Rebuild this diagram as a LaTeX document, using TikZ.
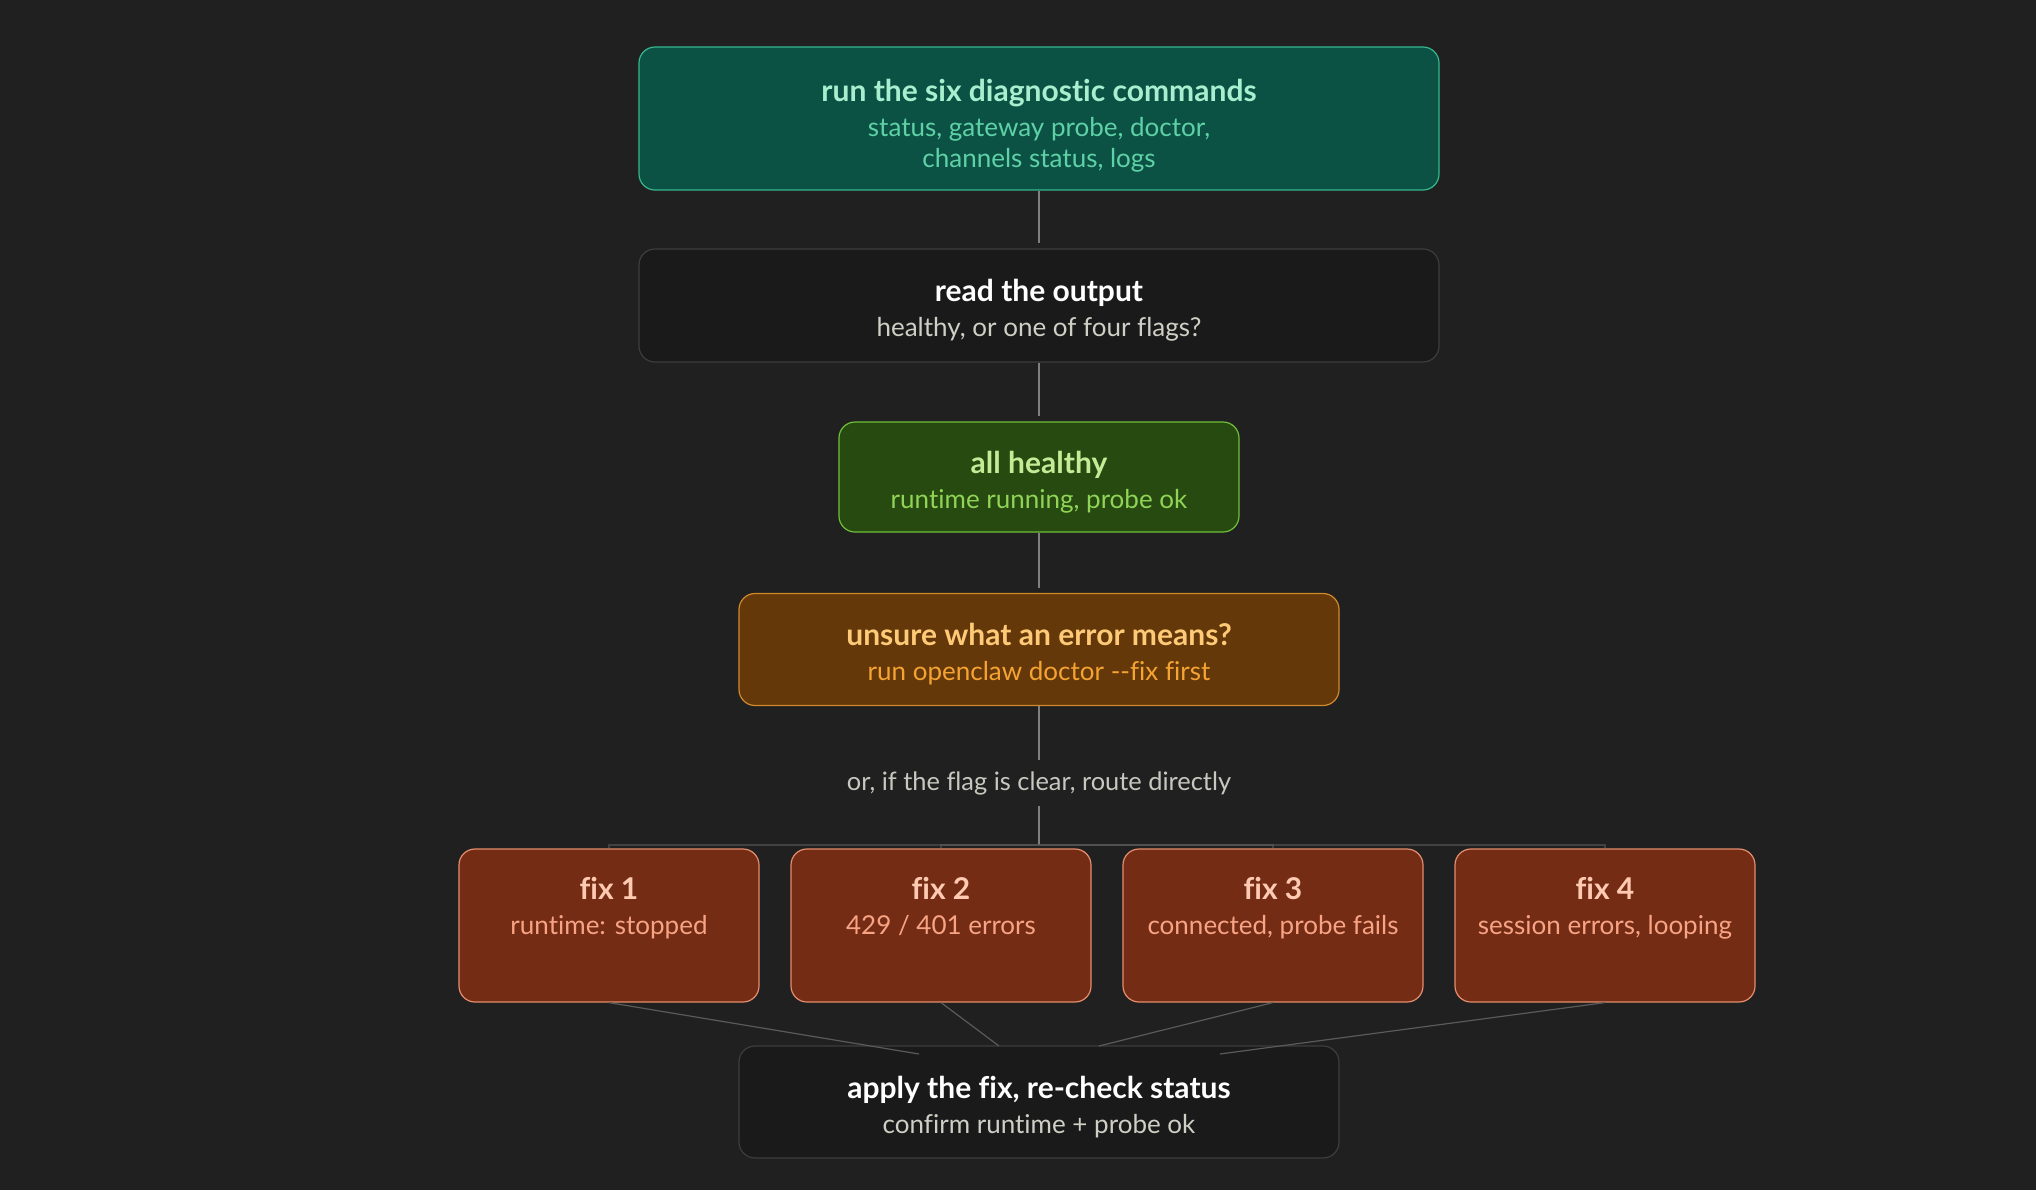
\documentclass[tikz,border=0pt]{standalone}
\usepackage{fontspec}
\setmainfont{Lato}[Ligatures={NoCommon}]
\usetikzlibrary{calc}
\definecolor{bg}{HTML}{202020}
\definecolor{tealfill}{HTML}{0B5245}
\definecolor{tealbd}{HTML}{36B68C}
\definecolor{tealttl}{HTML}{A9EFCF}
\definecolor{tealsub}{HTML}{5FD1A6}
\definecolor{darkfill}{HTML}{1A1A1A}
\definecolor{darkbd}{HTML}{3D3D3D}
\definecolor{darkttl}{HTML}{FFFFFF}
\definecolor{darksub}{HTML}{CFCFC6}
\definecolor{grnfill}{HTML}{264A10}
\definecolor{grnbd}{HTML}{6FBF3A}
\definecolor{grnttl}{HTML}{C4EB96}
\definecolor{grnsub}{HTML}{8FD456}
\definecolor{ambfill}{HTML}{643809}
\definecolor{ambbd}{HTML}{D08A2C}
\definecolor{ambttl}{HTML}{FFCA78}
\definecolor{ambsub}{HTML}{F5A333}
\definecolor{redfill}{HTML}{742C15}
\definecolor{redbd}{HTML}{E58D6C}
\definecolor{redttl}{HTML}{FFC9B2}
\definecolor{redsub}{HTML}{F8A384}
\definecolor{lbltxt}{HTML}{C8C8C0}
\definecolor{stemcol}{HTML}{7F7F7F}
\definecolor{buscol}{HTML}{5A5A5A}
\newcommand\ttl[2]{{\color{#1}\fontsize{15}{17}\bfseries\vphantom{Hg}#2}}
\newcommand\sbt[2]{{\color{#1}\fontsize{13}{15.5}\selectfont\vphantom{Hg}#2}}
\begin{document}
\begin{tikzpicture}[x=0.5pt,y=-0.5pt,
  box/.style={draw, rounded corners=8pt, line width=0.6pt, inner sep=0pt},
  txt/.style={align=center, inner sep=0pt, font=\fontsize{13}{15.5}\selectfont},
  wide/.style={minimum width=400pt},
  mid/.style={minimum width=300pt, minimum height=56pt},
  fixbox/.style={box, fill=redfill, draw=redbd, minimum width=150pt, minimum height=76.5pt},
  stem/.style={draw=stemcol, line width=1pt, shorten >=2.5pt},
  busline/.style={draw=buscol, line width=0.8pt, draw opacity=0.6},
  thinline/.style={draw=buscol, line width=0.6pt},
  lbl/.style={inner sep=0pt, minimum height=23pt, text=lbltxt, font=\fontsize{12.7}{15}\selectfont}
]
\fill[bg] (0,0) rectangle (2036,1190);
\useasboundingbox (0,0) rectangle (2036,1190);

\node[box, wide, fill=tealfill, draw=tealbd, minimum height=71.5pt] (run) at (1039,118.5) {};
\node[txt] (runt) at ($(run)+(0,7)$)
  {\ttl{tealttl}{run the six diagnostic commands}\\[2pt]\sbt{tealsub}{status, gateway probe, doctor,}\\\sbt{tealsub}{channels status, logs}};
\node[box, wide, fill=darkfill, draw=darkbd, minimum height=56.5pt] (read) at (1039,305.5) {};
\node[txt] (readt) at ($(read)+(0,5)$)
  {\ttl{darkttl}{read the output}\\[2pt]\sbt{darksub}{healthy, or one of four flags?}};
\node[box, minimum width=200pt, minimum height=55pt, fill=grnfill, draw=grnbd] (healthy) at (1039,477) {};
\node[txt] (healthyt) at ($(healthy)+(0,5)$)
  {\ttl{grnttl}{all healthy}\\[2pt]\sbt{grnsub}{runtime running, probe ok}};
\node[box, mid, fill=ambfill, draw=ambbd] (unsure) at (1039,649.5) {};
\node[txt] (unsuret) at ($(unsure)+(0,5)$)
  {\ttl{ambttl}{unsure what an error means?}\\[2pt]\sbt{ambsub}{run openclaw doctor {-}{-}fix first}};
\node[lbl] (flag) at (1039,783) {or, if the flag is clear, route directly};

\node[fixbox] (fix1) at (609,925.5) {};
\node[fixbox] (fix2) at (941,925.5) {};
\node[fixbox] (fix3) at (1273,925.5) {};
\node[fixbox] (fix4) at (1605,925.5) {};
\node[txt] (t1) at ($(fix1)+(0,-17)$) {\ttl{redttl}{fix 1}\\[2pt]\sbt{redsub}{runtime: stopped}};
\node[txt] (t2) at ($(fix2)+(0,-17)$) {\ttl{redttl}{fix 2}\\[2pt]\sbt{redsub}{429 / 401 errors}};
\node[txt] (t3) at ($(fix3)+(0,-17)$) {\ttl{redttl}{fix 3}\\[2pt]\sbt{redsub}{connected, probe fails}};
\node[txt] (t4) at ($(fix4)+(0,-17)$) {\ttl{redttl}{fix 4}\\[2pt]\sbt{redsub}{session errors, looping}};

\node[box, mid, fill=darkfill, draw=darkbd] (apply) at (1039,1102) {};
\node[txt] (applyt) at ($(apply)+(0,5)$)
  {\ttl{darkttl}{apply the fix, re-check status}\\[2pt]\sbt{darksub}{confirm runtime + probe ok}};

% vertical stems
\draw[stem] (run.south) -- (read.north);
\draw[stem] (read.south) -- (healthy.north);
\draw[stem] (healthy.south) -- (unsure.north);
\draw[stem, shorten >=0pt] (unsure.south) -- (flag.north);
\coordinate (bus) at (1039,845);
\draw[stem, shorten >=0pt] (flag.south) -- (bus);
\foreach \k in {1,2,3,4} { \draw[busline] (bus) -| (fix\k.north); }

% converging lines
\coordinate (a1) at ($(apply.center)+(-120,-48)$);
\coordinate (a2) at ($(apply.center)+(-40,-56)$);
\coordinate (a3) at ($(apply.center)+(60,-56)$);
\coordinate (a4) at ($(apply.center)+(181,-48)$);
\draw[thinline] (fix1.south) -- (a1);
\draw[thinline] (fix2.south) -- (a2);
\draw[thinline] (fix3.south) -- (a3);
\draw[thinline] (fix4.south) -- (a4);
\end{tikzpicture}
\end{document}
